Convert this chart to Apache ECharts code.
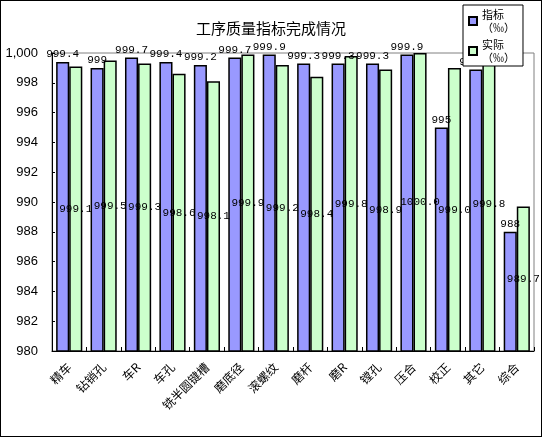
<!DOCTYPE html>
<html><head><meta charset="utf-8">
<script src="https://cdn.jsdelivr.net/npm/echarts@6/dist/echarts.min.js"></script>
<style>html,body{margin:0;padding:0;background:#fff}#c{width:542px;height:437px;box-sizing:border-box;border:1px solid #000}</style>
</head><body><div id="c"></div>
<script>
const categories = ['精车','钻销孔','车R','车孔','铣半圆键槽','磨底径','滚螺纹','磨杆','磨R','镗孔','压合','校正','其它','综合'];
const targetValues = [999.4, 999, 999.7, 999.4, 999.2, 999.7, 999.9, 999.3, 999.3, 999.3, 999.9, 995, 998.9, 988];
const actualValues = [999.1, 999.5, 999.3, 998.6, 998.1, 999.9, 999.2, 998.4, 999.8, 998.9, 1000.0, 999.0, 999.8, 989.7];
const yTicks = [980, 982, 984, 986, 988, 990, 992, 994, 996, 998, 1000];

const chart = echarts.init(document.getElementById('c'));
const font = "'Liberation Mono', 'DejaVu Sans Mono', monospace";
chart.setOption({
  animation: false,
  title: { text: '工序质量指标完成情况', left: 'center', top: 15,
    textStyle: { fontFamily: "'Noto Sans CJK SC'", fontSize: 15, fontWeight: 'normal', color: '#000' } },
  legend: {
    orient: 'vertical', left: 462, top: 4, icon: 'rect', itemWidth: 8, itemHeight: 8, itemGap: 4,
    backgroundColor: '#fff', borderColor: '#000', borderWidth: 1, padding: [3, 8, 2, 5],
    textStyle: { fontFamily: "'Noto Sans CJK SC'", fontSize: 11, color: '#000', lineHeight: 13 },
    formatter: n => n + '\n（‰）',
    data: ['指标', '实际']
  },
  grid: { left: 51, right: 7, top: 52, bottom: 85, show: true, borderColor: '#808080', borderWidth: 1 },
  xAxis: {
    type: 'category', data: categories,
    axisLine: { lineStyle: { color: '#000' } },
    axisTick: { show: true, inside: true, length: 4, lineStyle: { color: '#000' } },
    axisLabel: { rotate: 45, interval: 0, fontFamily: "'Noto Sans CJK SC'", fontSize: 12, color: '#000', margin: 14 }
  },
  yAxis: {
    type: 'value', min: yTicks[0], max: yTicks[yTicks.length - 1], interval: 2,
    axisLine: { show: true, lineStyle: { color: '#000' } },
    axisTick: { show: true, inside: true, length: 3, lineStyle: { color: '#000' } },
    splitLine: { show: false },
    axisLabel: { fontFamily: "'Liberation Sans', sans-serif", fontSize: 13, color: '#000', margin: 14 }
  },
  series: [
    { name: '指标', type: 'bar', data: targetValues, barGap: '0%', barCategoryGap: '24%',
      itemStyle: { color: '#9999FF', borderColor: '#000', borderWidth: 1.5 },
      label: { show: true, position: 'top', distance: 2, fontFamily: font, fontSize: 11, color: '#000' } },
    { name: '实际', type: 'bar', data: actualValues,
      itemStyle: { color: '#CCFFCC', borderColor: '#000', borderWidth: 1.5 },
      label: { show: true, position: 'inside', fontFamily: font, fontSize: 11, color: '#000',
        formatter: p => p.value.toFixed(1) } }
  ]
});
</script></body></html>
